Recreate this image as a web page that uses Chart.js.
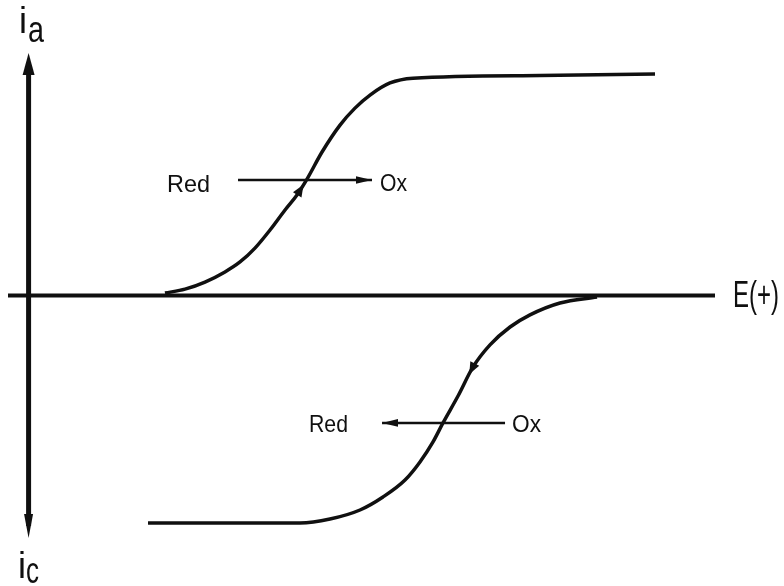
<!DOCTYPE html>
<html>
<head>
<meta charset="utf-8">
<script src="https://cdn.jsdelivr.net/npm/chart.js@4.4.0/dist/chart.umd.min.js"></script>
<style>
	html, body { margin: 0; padding: 0; background: #fff; }
	#wrap { width: 784px; height: 586px; }
</style>
</head>
<body>
<div id="wrap"><canvas id="waveChart" width="784" height="586"></canvas></div>
<script>
// 전위(E) 범위, 전류(i) 범위
var eRange = [-0.3, 10];
var iRange = [-1.1, 1.1];

// 산화파 (Red -> Ox), 위쪽
var anodicE = [1.987, 2.279, 2.570, 2.861, 3.080, 3.298, 3.517, 3.736, 3.910, 4.056, 4.275, 4.537, 4.755, 4.974, 5.265, 5.600, 7.450, 9.126];
var anodicI = [0.011, 0.029, 0.061, 0.107, 0.152, 0.215, 0.297, 0.388, 0.456, 0.528, 0.651, 0.773, 0.850, 0.909, 0.964, 0.986, 0.998, 1.005];

// 환원파 (Ox -> Red), 아래쪽
var cathodicE = [1.740, 3.954, 4.391, 4.828, 5.163, 5.484, 5.702, 5.892, 6.037, 6.256, 6.475, 6.722, 7.014, 7.305, 7.742, 8.281];
var cathodicI = [-1.032, -1.032, -1.014, -0.973, -0.914, -0.837, -0.755, -0.664, -0.578, -0.456, -0.324, -0.224, -0.143, -0.088, -0.034, -0.007];

// 반응 방향 화살표 (시작점 -> 끝점)
var arrowUpE = [3.051, 5.003];
var arrowUpI = [0.524, 0.524];
var arrowDownE = [6.941, 5.149];
var arrowDownI = [-0.578, -0.578];

// 곡선 위 주사방향 표시 (위치, 향하는 점)
var markUpE = [3.96, 4.056];
var markUpI = [0.480, 0.528];
var markDownE = [6.46, 6.256];
var markDownI = [-0.333, -0.456];

var labels = { anodic: 'a', cathodic: 'c', axis: 'E(+)', red: 'Red', ox: 'Ox' };

var ink = '#101010';
var font = "'Liberation Sans', Arial, sans-serif";

function toPoints(xs, ys) {
	var out = [];
	for (var i = 0; i < xs.length; i++) {
		out.push({ x: xs[i], y: ys[i] });
	}
	return out;
}

// 끝이 (tx,ty)인 삼각형 화살촉, (fx,fy)쪽에서 들어옴
function head(ctx, fx, fy, tx, ty, len, half) {
	var dx = tx - fx, dy = ty - fy;
	var d = Math.sqrt(dx * dx + dy * dy) || 1;
	dx /= d; dy /= d;
	var bx = tx - dx * len, by = ty - dy * len;
	ctx.beginPath();
	ctx.moveTo(tx, ty);
	ctx.lineTo(bx - dy * half, by + dx * half);
	ctx.lineTo(bx + dy * half, by - dx * half);
	ctx.closePath();
	ctx.fill();
}

function text(ctx, str, x, y, size, maxW) {
	ctx.font = size + 'px ' + font;
	ctx.fillText(str, x, y, maxW);
}

var sketch = {
	id: 'sketch',
	beforeDatasetsDraw: function(chart) {
		var ctx = chart.ctx;
		var sx = chart.scales.x, sy = chart.scales.y;
		var x0 = sx.getPixelForValue(0), y0 = sy.getPixelForValue(0);
		var yTop = sy.getPixelForValue(iRange[1]), yBot = sy.getPixelForValue(iRange[0]);
		ctx.save();
		ctx.strokeStyle = ink;
		ctx.fillStyle = ink;

		// E 축
		ctx.lineWidth = 4;
		ctx.beginPath();
		ctx.moveTo(sx.getPixelForValue(eRange[0]), y0);
		ctx.lineTo(sx.getPixelForValue(eRange[1]), y0);
		ctx.stroke();

		// 전류 축 (양쪽 화살표)
		ctx.lineWidth = 5;
		ctx.beginPath();
		ctx.moveTo(x0, yTop + 16);
		ctx.lineTo(x0, yBot - 12);
		ctx.stroke();
		head(ctx, x0, yTop + 30, x0, yTop, 22, 6);
		head(ctx, x0, yBot - 30, x0, yBot, 24, 4.5);
		ctx.restore();
	},
	afterDatasetsDraw: function(chart) {
		var ctx = chart.ctx;
		var sx = chart.scales.x, sy = chart.scales.y;
		ctx.save();
		ctx.fillStyle = ink;

		// 반응 화살표 머리
		[2, 3].forEach(function(idx) {
			var pts = chart.getDatasetMeta(idx).data;
			var a = pts[pts.length - 2], b = pts[pts.length - 1];
			head(ctx, a.x, a.y, b.x, b.y, 16, 3.8);
		});

		// 주사방향 표시
		[[markUpE, markUpI], [markDownE, markDownI]].forEach(function(m) {
			var px = sx.getPixelForValue(m[0][0]), py = sy.getPixelForValue(m[1][0]);
			var qx = sx.getPixelForValue(m[0][1]), qy = sy.getPixelForValue(m[1][1]);
			var dx = qx - px, dy = qy - py, d = Math.sqrt(dx * dx + dy * dy);
			head(ctx, px - dx / d * 6, py - dy / d * 6, px + dx / d * 6, py + dy / d * 6, 12, 5);
		});

		// 글자
		ctx.textBaseline = 'alphabetic';
		text(ctx, 'i', 19, 33, 36);
		text(ctx, labels.anodic, 28, 42, 36, 16);
		text(ctx, 'i', 18, 578, 36);
		text(ctx, labels.cathodic, 26, 583, 36, 13);
		text(ctx, labels.axis, 733, 307, 37, 46);
		text(ctx, labels.red, 167, 192, 24, 43);
		text(ctx, labels.ox, 380, 191, 24, 27);
		text(ctx, labels.red, 309, 432, 24, 39);
		text(ctx, labels.ox, 512, 432, 24, 29);
		ctx.restore();
	}
};

var lineStyle = {
	borderColor: ink,
	borderWidth: 3.5,
	pointRadius: 0,
	fill: false,
	cubicInterpolationMode: 'monotone'
};

var myChart = new Chart(document.getElementById('waveChart'), {
	type: 'line',
	data: {
		datasets: [
			Object.assign({ label: 'Red→Ox', data: toPoints(anodicE, anodicI) }, lineStyle),
			Object.assign({ label: 'Ox→Red', data: toPoints(cathodicE, cathodicI) }, lineStyle),
			{ label: 'up', data: toPoints(arrowUpE, arrowUpI), borderColor: ink, borderWidth: 2.5, pointRadius: 0, tension: 0 },
			{ label: 'down', data: toPoints(arrowDownE, arrowDownI), borderColor: ink, borderWidth: 2.5, pointRadius: 0, tension: 0 }
		]
	},
	options: {
		responsive: false,
		animation: false,
		devicePixelRatio: 1,
		layout: { padding: { left: 8, right: 69, top: 53, bottom: 48 } },
		scales: {
			x: { type: 'linear', min: eRange[0], max: eRange[1], display: false },
			y: { type: 'linear', min: iRange[0], max: iRange[1], display: false }
		},
		plugins: {
			legend: { display: false },
			tooltip: { enabled: false }
		}
	},
	plugins: [sketch]
});
</script>
</body>
</html>
